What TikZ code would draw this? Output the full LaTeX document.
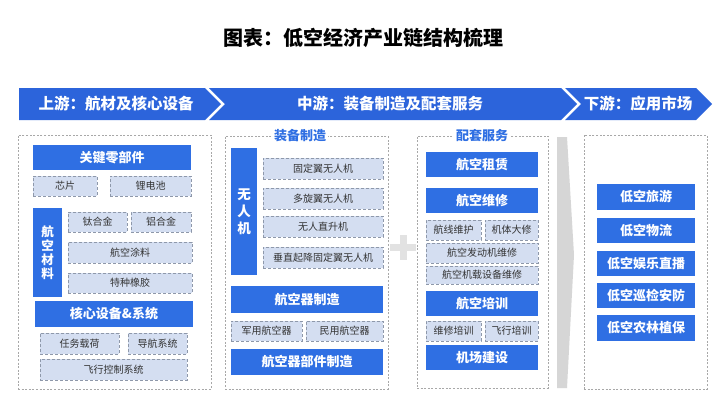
\documentclass[tikz,border=0pt]{standalone}
\usepackage{fontspec}
\setmainfont{Noto Sans CJK SC}
\definecolor{mainblue}{HTML}{2F6FE3}
\definecolor{bannerblue}{HTML}{2C64DB}
\definecolor{lightbox}{HTML}{D4DEF1}
\definecolor{lightedge}{HTML}{8E98AA}
\definecolor{outeredge}{HTML}{A8A8A8}
\definecolor{boxtext}{HTML}{333333}
\definecolor{sepgray}{HTML}{D6D6D6}
\tikzset{
  bar/.style={fill=mainblue, text=white, font=\fontsize{13}{15}\selectfont\bfseries, inner sep=0pt, draw=none},
  vbar/.style={bar, align=center, font=\fontsize{12.5}{14}\selectfont\bfseries},
  lite/.style={fill=lightbox, draw=lightedge, dash pattern=on 3pt off 2pt, line width=0.6pt, text=boxtext, font=\fontsize{10}{12}\selectfont, inner sep=0pt},
  outerbox/.style={draw=outeredge, dash pattern=on 2pt off 1.6pt, line width=0.6pt, inner sep=0pt},
  seclabel/.style={fill=white, text=mainblue, font=\fontsize{13}{15}\selectfont\bfseries, inner sep=2pt},
  bannertext/.style={text=white, font=\fontsize{15.5}{18}\selectfont\bfseries, inner sep=0pt},
}
\newcommand\mkbox[7]{\node[#1, minimum width={(#5-#3)*1pt}, minimum height={(#6-#4)*1pt}] (#2) at ({(#3+#5)/2},{(#4+#6)/2}) {#7};}
\begin{document}
\begin{tikzpicture}[x=1pt,y=-1pt]
\useasboundingbox[fill=white] (0,0) rectangle (727,416);
% title
\node[font=\fontsize{20}{24}\selectfont\bfseries, inner sep=0pt] (title) at (363,38) {图表：低空经济产业链结构梳理};
% banners
\fill[bannerblue] (19,88) -- (205,88) -- (221,104) -- (205,120) -- (19,120) -- cycle;
\fill[bannerblue] (209,88) -- (561,88) -- (577,104) -- (561,120) -- (209,120) -- (225,104) -- cycle;
\fill[bannerblue] (565,88) -- (696,88) -- (712,104) -- (696,120) -- (565,120) -- (581,104) -- cycle;
\node[bannertext] (b1) at (116,104) {上游：航材及核心设备};
\node[bannertext] (b2) at (390,104) {中游：装备制造及配套服务};
\node[bannertext] (b3) at (638,104) {下游：应用市场};
% separators
\fill[sepgray!70] (399.5,235) rectangle (406.5,260);
\fill[sepgray!70] (390,244) rectangle (416,251);
\fill[sepgray] (557,137) -- (567,137) -- (574,255) -- (567,388) -- (557,388) -- cycle;
% upstream
\mkbox{outerbox}{up}{18}{135}{211}{389}{}
\mkbox{bar}{parts}{33}{145}{191}{170}{关键零部件}
\mkbox{lite}{chip}{33}{176}{97}{196}{芯片}
\mkbox{lite}{battery}{110}{176}{191}{196}{锂电池}
\mkbox{vbar}{mat}{33}{208}{62}{297}{航\\空\\材\\料}
\mkbox{lite}{ti}{68}{212}{127}{232}{钛合金}
\mkbox{lite}{al}{131}{212}{191}{232}{铝合金}
\mkbox{lite}{coat}{68}{242}{192}{263}{航空涂料}
\mkbox{lite}{rubber}{68}{273}{192}{293}{特种橡胶}
\mkbox{bar}{core}{35}{301}{193}{327}{核心设备\&系统}
\mkbox{lite}{payload}{40}{333}{119}{354}{任务载荷}
\mkbox{lite}{nav}{128}{333}{187}{354}{导航系统}
\mkbox{lite}{fcs}{40}{359}{187}{380}{飞行控制系统}
% midstream: equipment
\mkbox{outerbox}{mid1}{225}{136}{388}{389}{}
\node[seclabel] (mid1lab) at (300,136) {装备制造};
\mkbox{vbar}{uav}{231}{148}{257}{275}{}
\node[text=white, font=\fontsize{13.5}{17}\selectfont\bfseries, align=center, inner sep=0pt] (uavtext) at (uav.center) {无\\人\\机};
\mkbox{lite}{fixed}{263}{158}{383}{179}{固定翼无人机}
\mkbox{lite}{multi}{263}{188}{383}{209}{多旋翼无人机}
\mkbox{lite}{heli}{263}{216}{383}{237}{无人直升机}
\mkbox{lite}{vtol}{263}{247}{383}{268}{垂直起降固定翼无人机}
\mkbox{bar}{acm}{231}{286}{383}{313}{航空器制造}
\mkbox{lite}{mil}{231}{321}{302}{341}{军用航空器}
\mkbox{lite}{civ}{306}{321}{383}{341}{民用航空器}
\mkbox{bar}{acp}{231}{349}{383}{375}{航空器部件制造}
% midstream: services
\mkbox{outerbox}{mid2}{417}{136}{548}{388}{}
\node[seclabel] (mid2lab) at (482,136) {配套服务};
\mkbox{bar}{lease}{426}{152}{538}{177}{航空租赁}
\mkbox{bar}{mro}{426}{188}{538}{213}{航空维修}
\mkbox{lite}{line}{426}{220}{481}{240}{航线维护}
\mkbox{lite}{overhaul}{485}{220}{538}{240}{机体大修}
\mkbox{lite}{engine}{426}{243}{538}{263}{航空发动机维修}
\mkbox{lite}{avionics}{426}{266}{538}{284}{航空机载设备维修}
\mkbox{bar}{train}{426}{291}{538}{316}{航空培训}
\mkbox{lite}{mtrain}{426}{321}{481}{341}{维修培训}
\mkbox{lite}{ftrain}{485}{321}{538}{341}{飞行培训}
\mkbox{bar}{airport}{426}{345}{538}{370}{机场建设}
% downstream
\mkbox{outerbox}{down}{584}{135}{707}{389}{}
\mkbox{bar}{tour}{597}{184}{695}{210}{低空旅游}
\mkbox{bar}{logi}{597}{218}{695}{243}{低空物流}
\mkbox{bar}{ent}{597}{251}{695}{276}{低空娱乐直播}
\mkbox{bar}{patrol}{597}{283}{695}{308}{低空巡检安防}
\mkbox{bar}{agri}{597}{315}{695}{341}{低空农林植保}
\end{tikzpicture}
\end{document}
